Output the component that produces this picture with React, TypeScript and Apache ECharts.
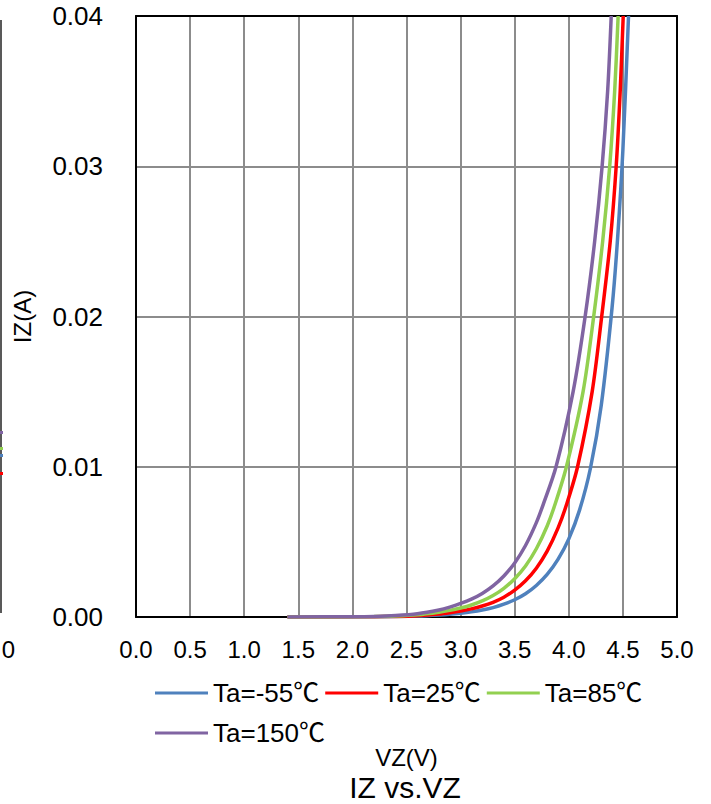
import React, { useEffect, useRef } from "react";
import * as echarts from "echarts";

// ---- data ----
const seriesNames = ["Ta=-55℃", "Ta=25℃", "Ta=85℃", "Ta=150℃"];
const seriesColors = ["#4F81BD", "#FF0000", "#92D050", "#8064A2"];

// VZ (V) and IZ (A) for each temperature
const vM55 = [1.4, 2.0, 2.2, 2.4, 2.6, 2.8, 2.9, 3.0, 3.1, 3.2, 3.3, 3.4, 3.5, 3.6, 3.7, 3.8, 3.9, 4.0, 4.1, 4.2, 4.3, 4.4, 4.45, 4.5, 4.552];
const iM55 = [0, 0.000007, 0.000015, 0.00003, 0.00006, 0.00013, 0.00018, 0.00025, 0.00034, 0.00046, 0.00062, 0.00085, 0.00115, 0.00155, 0.0021, 0.00283, 0.00383, 0.0052, 0.00713, 0.0099, 0.0141, 0.0206, 0.0251, 0.0311, 0.04];

const v25 = [1.4, 2.0, 2.2, 2.4, 2.6, 2.8, 2.9, 3.0, 3.1, 3.2, 3.3, 3.4, 3.5, 3.6, 3.7, 3.8, 3.9, 3.98, 4.081, 4.216, 4.304, 4.383, 4.438, 4.475, 4.503];
const i25 = [0, 0.00001, 0.00002, 0.00004, 0.00009, 0.0002, 0.00029, 0.0004, 0.00054, 0.00073, 0.00098, 0.00132, 0.00179, 0.00241, 0.00325, 0.00438, 0.00591, 0.0075, 0.01, 0.015, 0.02, 0.025, 0.03, 0.035, 0.04];

const v85 = [1.4, 2.0, 2.2, 2.4, 2.6, 2.8, 2.9, 3.0, 3.1, 3.2, 3.3, 3.4, 3.5, 3.6, 3.7, 3.8, 3.873, 3.978, 4.132, 4.23, 4.313, 4.378, 4.424, 4.456];
const i85 = [0, 0.000013, 0.00003, 0.00007, 0.00015, 0.00032, 0.00044, 0.0006, 0.0008, 0.00107, 0.00143, 0.00191, 0.00255, 0.0034, 0.00454, 0.00606, 0.0075, 0.01, 0.015, 0.02, 0.025, 0.03, 0.035, 0.04];

const v150 = [1.4, 2.0, 2.2, 2.4, 2.6, 2.8, 2.9, 3.0, 3.1, 3.2, 3.3, 3.4, 3.5, 3.6, 3.7, 3.764, 3.882, 4.04, 4.151, 4.239, 4.308, 4.359, 4.392];
const i150 = [0, 0.000018, 0.00004, 0.0001, 0.00022, 0.00047, 0.00066, 0.0009, 0.00119, 0.00157, 0.00207, 0.00273, 0.0036, 0.00476, 0.00628, 0.0075, 0.01, 0.015, 0.02, 0.025, 0.03, 0.035, 0.04];

const xTickLabels = ["0.0", "0.5", "1.0", "1.5", "2.0", "2.5", "3.0", "3.5", "4.0", "4.5", "5.0"];
const yTickLabels = ["0.00", "0.01", "0.02", "0.03", "0.04"];

const FONT = "'Liberation Sans', Arial, 'Noto Sans CJK JP', sans-serif";

const zip = (vs: number[], is: number[]) => vs.map((v, k) => [v, is[k]]);
const seriesData = [zip(vM55, iM55), zip(v25, i25), zip(v85, i85), zip(v150, i150)];

export default function App() {
  const ref = useRef<HTMLDivElement>(null);
  useEffect(() => {
    if (!ref.current) return;
    const chart = echarts.init(ref.current, null, { renderer: "svg" });
    const gridLine = { show: true, showMinLine: false, showMaxLine: false, lineStyle: { color: "#8c8c8c", width: 2 } };
    const frame = { show: true, onZero: false, lineStyle: { color: "#000", width: 2 } };
    chart.setOption({
      animation: false,
      backgroundColor: "#fff",
      title: {
        text: "IZ vs.VZ",
        left: 400,
        textAlign: "center",
        top: 767,
        textStyle: { fontFamily: FONT, fontSize: 30, fontWeight: "normal", color: "#000" },
      },
      grid: { left: 136, right: 34, top: 16, bottom: 187 },
      legend: [
        {
          data: seriesNames.slice(0, 3),
          left: 150,
          top: 675,
          itemWidth: 53,
          itemHeight: 3,
          itemGap: 6,
          icon: "rect",
          textStyle: { fontFamily: FONT, fontSize: 26, color: "#000" },
        },
        {
          data: seriesNames.slice(3),
          left: 150,
          top: 715,
          itemWidth: 53,
          itemHeight: 3,
          icon: "rect",
          textStyle: { fontFamily: FONT, fontSize: 26, color: "#000" },
        },
      ],
      xAxis: [
        {
          type: "value",
          min: 0,
          max: 5,
          interval: 0.5,
          name: "VZ(V)",
          nameLocation: "middle",
          nameGap: 128,
          nameTextStyle: { fontFamily: FONT, fontSize: 24, color: "#000" },
          axisLine: frame,
          axisTick: { show: false },
          axisLabel: {
            fontFamily: FONT,
            fontSize: 24,
            color: "#000",
            margin: 20,
            formatter: (v: number) => xTickLabels[Math.round(v / 0.5)],
          },
          splitLine: gridLine,
        },
        {
          type: "value",
          position: "top",
          min: 0,
          max: 5,
          interval: 0.5,
          axisLine: frame,
          axisTick: { show: false },
          axisLabel: { show: false },
          splitLine: { show: false },
        },
      ],
      yAxis: [
        {
          type: "value",
          min: 0,
          max: 0.04,
          interval: 0.01,
          name: "IZ(A)",
          nameLocation: "middle",
          nameGap: 102,
          nameTextStyle: { fontFamily: FONT, fontSize: 24, color: "#000" },
          axisLine: frame,
          axisTick: { show: false },
          axisLabel: {
            fontFamily: FONT,
            fontSize: 26,
            color: "#000",
            margin: 33,
            formatter: (v: number) => yTickLabels[Math.round(v / 0.01)],
          },
          splitLine: gridLine,
        },
        {
          type: "value",
          position: "right",
          min: 0,
          max: 0.04,
          interval: 0.01,
          axisLine: frame,
          axisTick: { show: false },
          axisLabel: { show: false },
          splitLine: { show: false },
        },
      ],
      series: seriesNames.map((name, k) => ({
        name,
        type: "line",
        data: seriesData[k],
        smooth: 0.3,
        showSymbol: false,
        symbol: "none",
        color: seriesColors[k],
        lineStyle: { color: seriesColors[k], width: 3.5 },
        clip: true,
        z: 3 + k,
      })),
      graphic: [
        { type: "line", shape: { x1: 1, y1: 20, x2: 1, y2: 613 }, style: { stroke: "#595959", lineWidth: 2 } },
        { type: "rect", shape: { x: 0, y: 431, width: 3, height: 3 }, style: { fill: "#8064A2" } },
        { type: "rect", shape: { x: 0, y: 447, width: 3, height: 3 }, style: { fill: "#92D050" } },
        { type: "rect", shape: { x: 0, y: 454, width: 3, height: 3 }, style: { fill: "#4F81BD" } },
        { type: "rect", shape: { x: 0, y: 472, width: 3, height: 3 }, style: { fill: "#FF0000" } },
        {
          type: "text",
          x: 15,
          y: 649,
          style: { text: "0", fontFamily: FONT, fontSize: 24, fill: "#000", align: "right", verticalAlign: "middle" },
        },
      ],
    });
    return () => chart.dispose();
  }, []);
  return (
    <div
      ref={ref}
      style={{ position: "fixed", left: 0, top: 0, width: 711, height: 804, background: "#fff" }}
    />
  );
}
